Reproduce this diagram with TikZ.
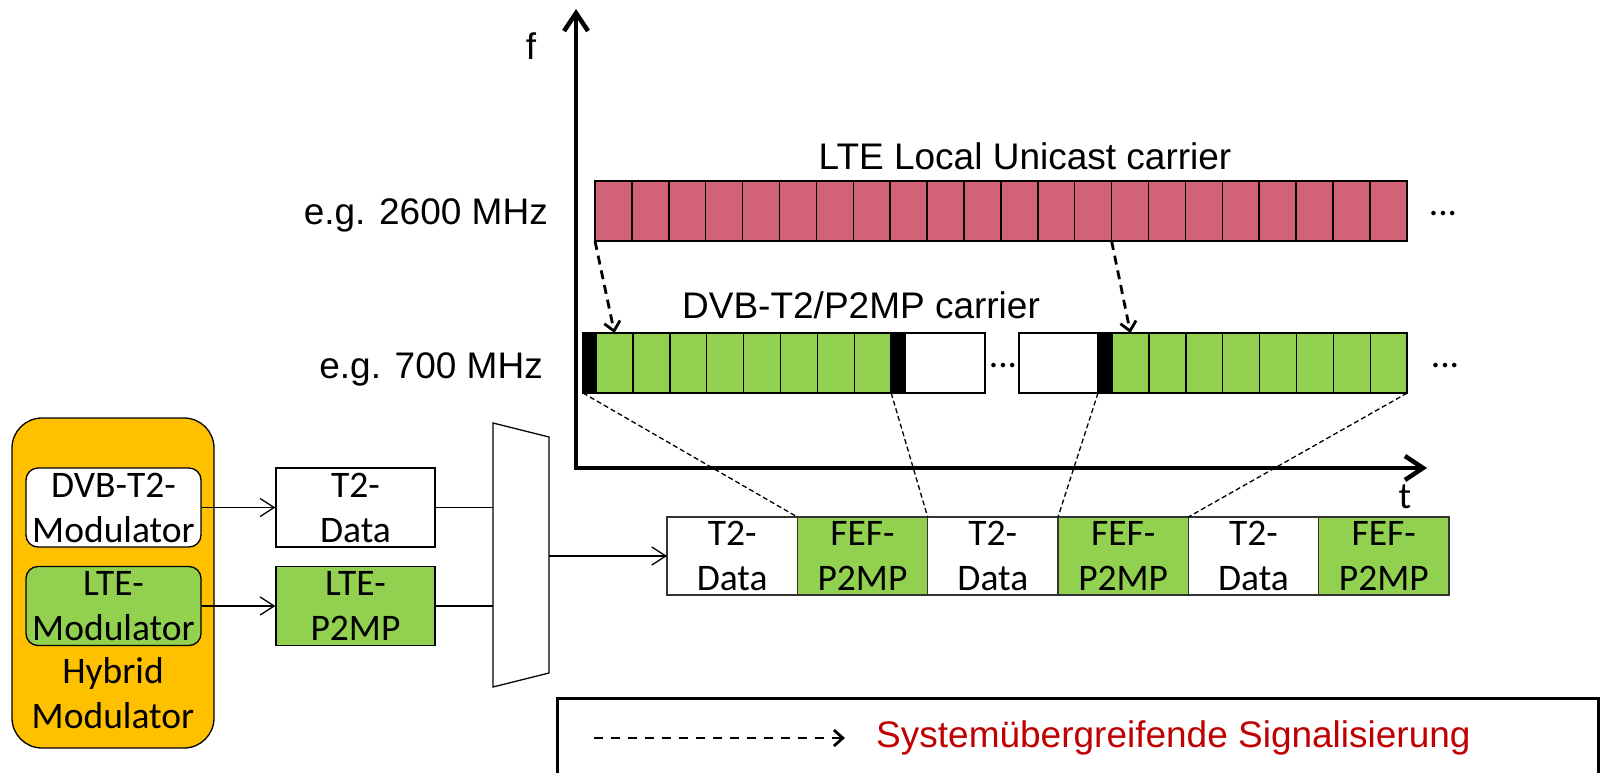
\documentclass[tikz,border=0pt]{standalone}
\usepackage{fontspec}
\setmainfont{Carlito}
\newfontfamily\arialfont{Liberation Sans}
\usepackage{tikz}
\usetikzlibrary{arrows.meta,positioning,calc}
\definecolor{lteRed}{HTML}{D16277}
\definecolor{dvbGreen}{HTML}{92D050}
\definecolor{hybGold}{HTML}{FFC000}
\definecolor{sigRed}{HTML}{C00000}

\begin{document}
\begin{tikzpicture}[x=1pt,y=-1pt,font=\fontsize{37.5}{45}\selectfont,
  lab/.style={font=\arialfont\fontsize{37}{44}\selectfont,inner sep=0pt},
  cell/.style={draw,line width=1.5pt,minimum width=36.9pt,minimum height=60pt,
               inner sep=0pt,outer sep=0pt,anchor=west},
  blk/.style={cell,fill=black,minimum width=13pt},
  gap/.style={cell,fill=white,minimum width=80pt},
  modbox/.style={draw,line width=1.3pt,minimum width=175pt,minimum height=79pt,
                 rounded corners=12pt,align=center,inner sep=0pt},
  databox/.style={draw,line width=1.3pt,minimum width=159pt,minimum height=79pt,
                  align=center,inner sep=0pt},
  frame/.style={draw=black!80,line width=1.5pt,minimum width=130.33pt,minimum height=78pt,
                align=center,inner sep=0pt,outer sep=0pt,anchor=west},
  link/.style={line width=1.3pt,-{Straight Barb[length=14pt,width=18pt,line width=1.3pt]}},
  axis/.style={line width=4.5pt,line join=miter,
               {Straight Barb[length=18pt,width=24pt]}-{Straight Barb[length=18pt,width=24pt]}},
  sig/.style={line width=2.8pt,dash pattern=on 9pt off 6pt,
              -{Straight Barb[length=9pt,width=16pt,line width=2.8pt]}},
  proj/.style={line width=1.3pt,dash pattern=on 5pt off 3pt}]
\useasboundingbox (0,0) rectangle (1600,772);

% time/frequency axes
\coordinate (orig) at (576,468);
\coordinate (ftip) at (576,9);
\coordinate (ttip) at (1427,468);
\draw[axis] (ttip) -- (orig) -- (ftip);
\node[lab] (flab) at (531,46) {f};
\node[anchor=base,inner sep=0pt] (tlab) at (1405,508) {t};

% LTE carrier
\foreach \i in {0,...,21}
  \node[cell,fill=lteRed] (r\i) at ({595+36.9*\i},211) {};
\node[lab] (ltelab) at (1025,156) {LTE Local Unicast carrier};
\node[lab,anchor=base east] (f2600) at (548,224) {e.g. 2600 MHz};
\node[anchor=base,inner sep=0pt] (rdots) at (1443,215) {...};

% DVB-T2 carrier
\node[blk] (b1) at (583,363) {};
\foreach \i in {1,...,8}
  \node[cell,fill=dvbGreen] (g\i) at ({596+36.9*(\i-1)},363) {};
\node[blk,right=0pt of g8] (b2) {};
\node[gap,right=1pt of b2] (w1) {};
\node[anchor=base,inner sep=0pt] (gdots) at (1003,367) {...};
\node[gap,minimum width=79pt] (w2) at (1019,363) {};
\node[blk,right=0pt of w2] (b3) {};
\foreach \i in {9,...,16}
  \node[cell,fill=dvbGreen] (g\i) at ({1112+36.9*(\i-9)},363) {};
\node[lab] (dvblab) at (861,305) {DVB-T2/P2MP carrier};
\node[lab,anchor=base east] (f700) at (543,378) {e.g. 700 MHz};
\node[anchor=base,inner sep=0pt] (edots) at (1445,367) {...};

\draw[sig] (r0.south west) -- (g1.north);
\draw[sig] (r14.south west) -- (g9.north);

% hybrid modulator
\node[draw,line width=1.3pt,fill=hybGold,rounded corners=30pt,minimum width=202pt,
      minimum height=330pt] (hyb) at (113,583) {};
\node[modbox,fill=white] (dvbmod) at (113.5,507.5) {DVB-T2-\\Modulator};
\node[modbox,fill=dvbGreen] (ltemod) at (113.5,606) {LTE-\\Modulator};
\node[align=center,inner sep=0pt] (hyblab) at (113,693) {Hybrid\\Modulator};

\node[databox,fill=white] (t2data) at (355.5,507.5) {T2-\\Data};
\node[databox,fill=dvbGreen] (lteframe) at (355.5,606) {LTE-\\P2MP};
\draw[link] (dvbmod.east) -- (t2data.west);
\draw[link] (ltemod.east) -- (lteframe.west);

% multiplexer
\coordinate (m1) at (493,423);
\coordinate (m2) at (549,437);
\coordinate (m3) at (549,673);
\coordinate (m4) at (493,687);
\coordinate (muxout) at (549,556);
\draw[line width=1.3pt,fill=white] (m1) -- (m2) -- (m3) -- (m4) -- cycle;
\draw[line width=1.3pt] (t2data.east) -- (t2data.east -| m1);
\draw[line width=1.3pt] (lteframe.east) -- (lteframe.east -| m1);

% T2 frame sequence
\foreach \i/\txt/\col in {1/{T2-\\Data}/white,2/{FEF-\\P2MP}/dvbGreen,3/{T2-\\Data}/white,
                          4/{FEF-\\P2MP}/dvbGreen,5/{T2-\\Data}/white,6/{FEF-\\P2MP}/dvbGreen}
  \node[frame,fill=\col] (s\i) at ({667+130.33*(\i-1)},556) {\txt};
\draw[link] (muxout) -- (s1.west);

\draw[proj] (b1.south west) -- (s2.north west);
\draw[proj] (b2.south west) -- (s3.north west);
\draw[proj] (b3.south west) -- (s4.north west);
\draw[proj] (g16.south east) -- (s5.north west);

% legend
\node[draw,line width=2.5pt,minimum width=1041pt,minimum height=120pt,
      anchor=north west] (legend) at (556,697) {};
\coordinate (sigA) at (594,738);
\coordinate (sigB) at (845,738);
\draw[sig,dash pattern=on 9pt off 8pt] (sigA) -- (sigB);
\node[lab,anchor=base west,text=sigRed] (sigtxt) at (876,747) {Systemübergreifende Signalisierung};
\end{tikzpicture}
\end{document}
